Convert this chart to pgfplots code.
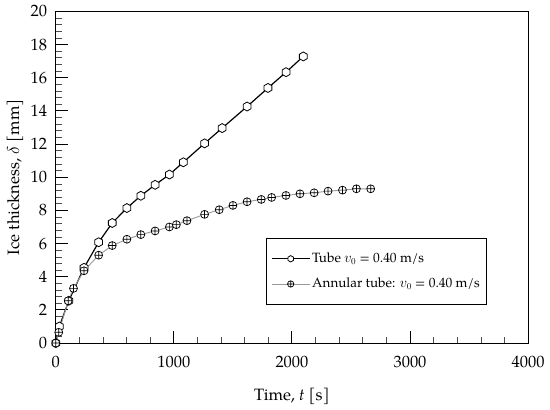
\documentclass[border=0pt]{standalone}
\usepackage{fontspec}
\setmainfont{TeX Gyre Pagella}
\usepackage{pgfplots}
\pgfplotsset{compat=1.18}
\pgfdeclareplotmark{hexagon}{%
 \pgfpathmoveto{\pgfqpointpolar{90}{\pgfplotmarksize}}%
 \pgfpathlineto{\pgfqpointpolar{150}{\pgfplotmarksize}}%
 \pgfpathlineto{\pgfqpointpolar{210}{\pgfplotmarksize}}%
 \pgfpathlineto{\pgfqpointpolar{270}{\pgfplotmarksize}}%
 \pgfpathlineto{\pgfqpointpolar{330}{\pgfplotmarksize}}%
 \pgfpathlineto{\pgfqpointpolar{30}{\pgfplotmarksize}}%
 \pgfpathclose
 \pgfusepathqfillstroke}
\begin{document}
\fontsize{16.5}{19}\selectfont
\begin{tikzpicture}
\begin{axis}[
 scale only axis, width=474pt, height=333pt,
 xmin=0,xmax=4000,ymin=0,ymax=20,
 xtick={0,1000,...,4000}, ytick={0,2,...,20},
 minor x tick num=4, minor y tick num=4,
 tick align=inside, xtick pos=bottom, ytick pos=left,
 major tick length=12pt, minor tick length=6pt,
 every major tick/.style={black, line width=0.9pt},
 every minor tick/.style={black!70, line width=0.6pt},
 axis line style={line width=1pt},
 /pgf/number format/assume math mode=true,
 scaled x ticks=false,
 xticklabel style={/pgf/number format/1000 sep={}, yshift=-7pt},
 yticklabel style={xshift=-3pt},
 tick label style={font=\fontsize{16.5}{19}\selectfont},
 label style={font=\fontsize{16.5}{19}\selectfont},
 xlabel={Time, \textit{t} [s]},
 ylabel={Ice thickness, $\delta$ [mm]},
 xlabel style={at={(axis description cs:0.5,-0.16)}, anchor=center},
 ylabel style={at={(axis description cs:-0.0865,0.5)}, anchor=center},
 legend style={font=\fontsize{13.5}{16}\selectfont, draw=black, line width=0.8pt,
   at={(0.9135,0.115)}, anchor=south east, inner xsep=5pt, inner ysep=12.5pt,
   row sep=9pt, cells={anchor=west}},
 legend cell align=left,
 legend image code/.code={%
   \path (-4pt,0pt) -- (34pt,0pt);
   \draw[mark repeat=2,mark phase=2,mark size=3.2pt] plot coordinates {(0pt,0pt)(15pt,0pt)(30pt,0pt)};},
]
\addplot[black, line width=1.2pt, mark=hexagon, mark size=4.5pt,
  mark options={fill=white, draw=black, line width=0.8pt}] coordinates {
(0,0) (30,1.0) (110,2.55) (239,4.54) (363,6.08) (478,7.24) (602,8.14) (720,8.88)
(841,9.54) (962,10.16) (1080,10.9) (1260,12.04) (1409,12.96) (1620,14.26)
(1797,15.38) (1950,16.33) (2096,17.28)};
\addlegendentry{Tube $v_0$ = 0.40 m/s}
\addplot[black!40, line width=0.9pt, mark=oplus*, mark size=4pt,
  mark options={fill=white, draw=black, line width=0.7pt}] coordinates {
(0,0) (25,0.65) (105,2.55) (150,3.3) (239,4.36) (363,5.3) (478,5.88) (602,6.26)
(720,6.54) (841,6.76) (962,7.0) (1021,7.14) (1111,7.38) (1260,7.76) (1384,8.04)
(1500,8.3) (1620,8.52) (1740,8.66) (1828,8.78) (1949,8.9) (2068,9.0) (2188,9.06)
(2306,9.16) (2428,9.22) (2546,9.3) (2667,9.3)};
\addlegendentry{Annular tube: $v_0$ = 0.40 m/s}
\end{axis}
\path ([shift={(-56pt,-66pt)}]current axis.south west) rectangle ([shift={(20pt,10pt)}]current axis.north east);
\end{tikzpicture}
\end{document}
